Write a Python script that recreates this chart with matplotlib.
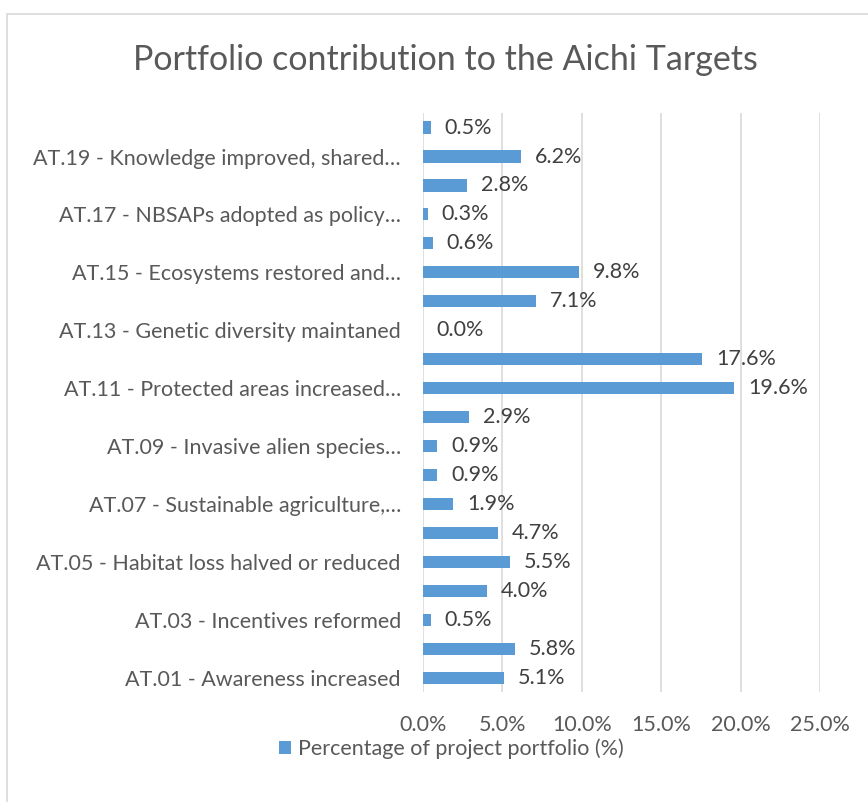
import matplotlib.pyplot as plt
from matplotlib.patches import Rectangle
from matplotlib.ticker import FuncFormatter

# data (bottom to top, AT.01 .. AT.20)
targets = ["AT.%02d" % i for i in range(1, 21)]
tick_labels = [
    "AT.01 - Awareness increased", "",
    "AT.03 - Incentives reformed", "",
    "AT.05 - Habitat loss halved or reduced", "",
    "AT.07 - Sustainable agriculture,\u2026", "",
    "AT.09 - Invasive alien species\u2026", "",
    "AT.11 - Protected areas increased\u2026", "",
    "AT.13 - Genetic diversity maintaned", "",
    "AT.15 - Ecosystems restored and\u2026", "",
    "AT.17 - NBSAPs adopted as policy\u2026", "",
    "AT.19 - Knowledge improved, shared\u2026", "",
]
share = [5.1, 5.8, 0.5, 4.0, 5.5, 4.7, 1.9, 0.9, 0.9, 2.9,
         19.6, 17.6, 0.0, 7.1, 9.8, 0.6, 0.3, 2.8, 6.2, 0.5]
xticks = [0, 5, 10, 15, 20, 25]

plt.rcParams['font.family'] = ['Lato', 'DejaVu Sans']

fig = plt.figure(figsize=(8.68, 8.02), dpi=100)
fig.patches.append(Rectangle((0.008, -0.01), 1.1, 0.993, transform=fig.transFigure,
                             fill=False, edgecolor='#D9D9D9', linewidth=1.2))
ax = fig.add_axes([0.4873, 0.137, 0.4574, 0.722])

pos = list(range(len(share)))
bars = ax.barh(pos, share, height=0.42, color='#5B9BD5', zorder=3)
for b, v in zip(bars, share):
    ax.annotate("%.1f%%" % v, (b.get_width(), b.get_y() + b.get_height() / 2),
                xytext=(10, 0), textcoords='offset points', va='center', ha='left',
                fontsize=15.5, color='#404040')

ax.set_xlim(0, 25)
ax.set_ylim(-0.5, len(share) - 0.5)
ax.set_xticks(xticks)
ax.xaxis.set_major_formatter(FuncFormatter(lambda v, p: "%.1f%%" % v))
ax.set_yticks(pos)
ax.set_yticklabels(tick_labels)
ax.tick_params(axis='both', length=0, labelsize=15.5, colors='#595959')
ax.tick_params(axis='y', pad=16)
ax.tick_params(axis='x', pad=16.5)
ax.grid(axis='x', color='#D9D9D9', linewidth=1.2, zorder=0)
for s in ax.spines.values():
    s.set_visible(False)

fig.text(0.513, 0.925, "Portfolio contribution to the Aichi Targets", ha='center', va='center',
         fontsize=24.5, color='#595959')

leg = fig.legend([bars[0]], ["Percentage of project portfolio (%)"], loc='center',
                 bbox_to_anchor=(0.52, 0.066), frameon=False, fontsize=15.5,
                 handlelength=0.55, handleheight=0.55, handletextpad=0.3)
for t in leg.get_texts():
    t.set_color('#595959')

fig.savefig("out.png", dpi=100)
